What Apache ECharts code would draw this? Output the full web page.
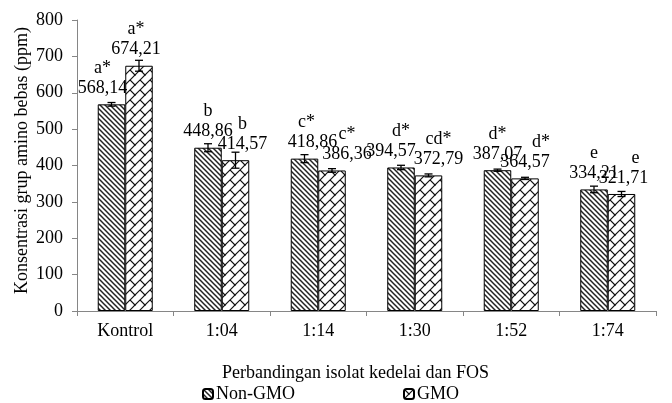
<!DOCTYPE html>
<html>
<head>
<meta charset="utf-8">
<script src="https://cdn.jsdelivr.net/npm/echarts@6/dist/echarts.min.js"></script>
<style>html,body{margin:0;padding:0;background:#fff}#c{width:672px;height:403px}</style>
</head>
<body>
<div id="c"></div>
<script>
const categories = ['Kontrol', '1:04', '1:14', '1:30', '1:52', '1:74'];
const nonGmo = [568.14, 448.86, 418.86, 394.57, 387.07, 334.21];
const gmo = [674.21, 414.57, 386.36, 372.79, 364.57, 321.71];
const nonGmoErr = [5, 11, 11, 6, 3, 9];
const gmoErr = [15, 22, 5, 4, 3, 7];
const nonGmoLetters = ['a*', 'b', 'c*', 'd*', 'd*', 'e'];
const gmoLetters = ['a*', 'b', 'c*', 'cd*', 'd*', 'e'];
const yTicks = [0, 100, 200, 300, 400, 500, 600, 700, 800];

// label nudges (style only, in px) – hand-placed labels in the original
const nonGmoLabelShift = [[-9, 0], [0, 0], [8, 0], [-10, 0], [0, 0], [0, 0]];
const gmoLabelShift = [[-3, 0], [7, 0], [15, 0], [10, 0], [0, 0], [2, 0]];
// extra horizontal nudge of the letter line relative to the value line
const nonGmoLetterShift = [0, 0, -6, 10, 0, 0];
const gmoLetterShift = [0, 0, 0, 0, 16, 12];

const FONT = '"Liberation Serif", "Times New Roman", serif';
const FS = 18;
const CAT_GAP = 0.43;

function diagPattern() {
  const s = 5;
  const c = document.createElement('canvas');
  c.width = s; c.height = s;
  const g = c.getContext('2d');
  g.fillStyle = '#fff'; g.fillRect(0, 0, s, s);
  g.strokeStyle = '#222'; g.lineWidth = 1.5;
  for (const k of [-s, 0, s]) {
    g.beginPath(); g.moveTo(k - 1, -1); g.lineTo(k + s + 1, s + 1); g.stroke();
  }
  return c;
}
function brickPattern() {
  const s = 10;
  const c = document.createElement('canvas');
  c.width = s; c.height = s;
  const g = c.getContext('2d');
  g.fillStyle = '#fff'; g.fillRect(0, 0, s, s);
  g.strokeStyle = '#111'; g.lineWidth = 1.2;
  for (const k of [0, s, 2 * s]) {
    g.beginPath(); g.moveTo(k + 1, -1); g.lineTo(k - s - 1, s + 1); g.stroke();
  }
  g.beginPath(); g.moveTo(-0.5, -0.5); g.lineTo(s / 2 + 0.5, s / 2 + 0.5); g.stroke();
  return c;
}

const fmt = v => v.toFixed(2).replace('.', ',');

function errSeries(name, vals, errs, side) {
  return {
    type: 'custom',
    name: name + '_err',
    z: 10,
    silent: true,
    renderItem: function (params, api) {
      const i = api.value(0);
      const v = api.value(1);
      const e = api.value(2);
      const band = api.size([1, 0])[0];
      const bw = band * (1 - CAT_GAP) / 2;
      const cx = api.coord([i, v])[0] + side * bw / 2;
      const yt = api.coord([i, v + e])[1];
      const yb = api.coord([i, v - e])[1];
      const cap = 4;
      const st = { stroke: '#000', lineWidth: 1.3 };
      return {
        type: 'group',
        children: [
          { type: 'line', shape: { x1: cx, y1: yt, x2: cx, y2: yb }, style: st },
          { type: 'line', shape: { x1: cx - cap, y1: yt, x2: cx + cap, y2: yt }, style: st },
          { type: 'line', shape: { x1: cx - cap, y1: yb, x2: cx + cap, y2: yb }, style: st }
        ]
      };
    },
    data: vals.map((v, i) => [i, v, errs[i]])
  };
}

function barSeries(name, vals, letters, shifts, letterShifts, pattern) {
  return {
    type: 'bar',
    name: name,
    barGap: '0%',
    barCategoryGap: (CAT_GAP * 100) + '%',
    itemStyle: { color: { image: pattern, repeat: 'repeat' }, borderColor: '#000', borderWidth: 1 },
    label: {
      show: true,
      position: 'top',
      distance: 6,
      fontFamily: FONT,
      fontSize: FS,
      lineHeight: 20,
      color: '#000'
    },
    data: vals.map((v, i) => {
      const ls = letterShifts[i];
      const pad = ls >= 0 ? [0, 0, 0, 2 * ls] : [0, -2 * ls, 0, 0];
      return {
        value: v,
        label: {
          offset: shifts[i],
          formatter: '{l|' + letters[i] + '}\n{v|' + fmt(v) + '}',
          rich: {
            l: { fontFamily: FONT, fontSize: FS, lineHeight: 20, color: '#000', padding: pad },
            v: { fontFamily: FONT, fontSize: FS, lineHeight: 20, color: '#000' }
          }
        }
      };
    })
  };
}

const chart = echarts.init(document.getElementById('c'));
chart.setOption({
  animation: false,
  backgroundColor: '#fff',
  grid: { left: 77, right: 16, top: 20, bottom: 92 },
  legend: [
    {
      data: ['Non-GMO'], left: 202, top: 385, padding: 0, itemWidth: 10, itemHeight: 10, itemGap: 4,
      textStyle: { fontFamily: FONT, fontSize: FS, color: '#000', padding: [0, 0, 0, -2] }
    },
    {
      data: ['GMO'], left: 403, top: 385, padding: 0, itemWidth: 10, itemHeight: 10, itemGap: 4,
      textStyle: { fontFamily: FONT, fontSize: FS, color: '#000', padding: [0, 0, 0, -2] }
    }
  ],
  xAxis: {
    type: 'category',
    data: categories,
    name: 'Perbandingan isolat kedelai dan FOS',
    nameLocation: 'middle',
    nameGap: 53,
    nameMoveOverlap: false,
    nameTextStyle: { fontFamily: FONT, fontSize: FS, color: '#000', padding: [0, 22, 0, 0] },
    axisLine: { lineStyle: { color: '#868686', width: 1 } },
    axisTick: { show: true, length: 5, lineStyle: { color: '#868686' } },
    axisLabel: { fontFamily: FONT, fontSize: FS, color: '#000', margin: 11 }
  },
  yAxis: {
    type: 'value',
    min: yTicks[0],
    max: yTicks[yTicks.length - 1],
    interval: 100,
    name: 'Konsentrasi grup amino bebas (ppm)',
    nameLocation: 'middle',
    nameGap: 46,
    nameMoveOverlap: false,
    nameTextStyle: { fontFamily: FONT, fontSize: FS, color: '#000', padding: [0, 0, 0, 10] },
    splitLine: { show: false },
    axisLine: { show: true, lineStyle: { color: '#868686', width: 1 } },
    axisTick: { show: true, length: 5, lineStyle: { color: '#868686' } },
    axisLabel: { fontFamily: FONT, fontSize: FS, color: '#000', margin: 14 }
  },
  series: [
    barSeries('Non-GMO', nonGmo, nonGmoLetters, nonGmoLabelShift, nonGmoLetterShift, diagPattern()),
    barSeries('GMO', gmo, gmoLetters, gmoLabelShift, gmoLetterShift, brickPattern()),
    errSeries('Non-GMO', nonGmo, nonGmoErr, -1),
    errSeries('GMO', gmo, gmoErr, 1)
  ]
});
</script>
</body>
</html>
